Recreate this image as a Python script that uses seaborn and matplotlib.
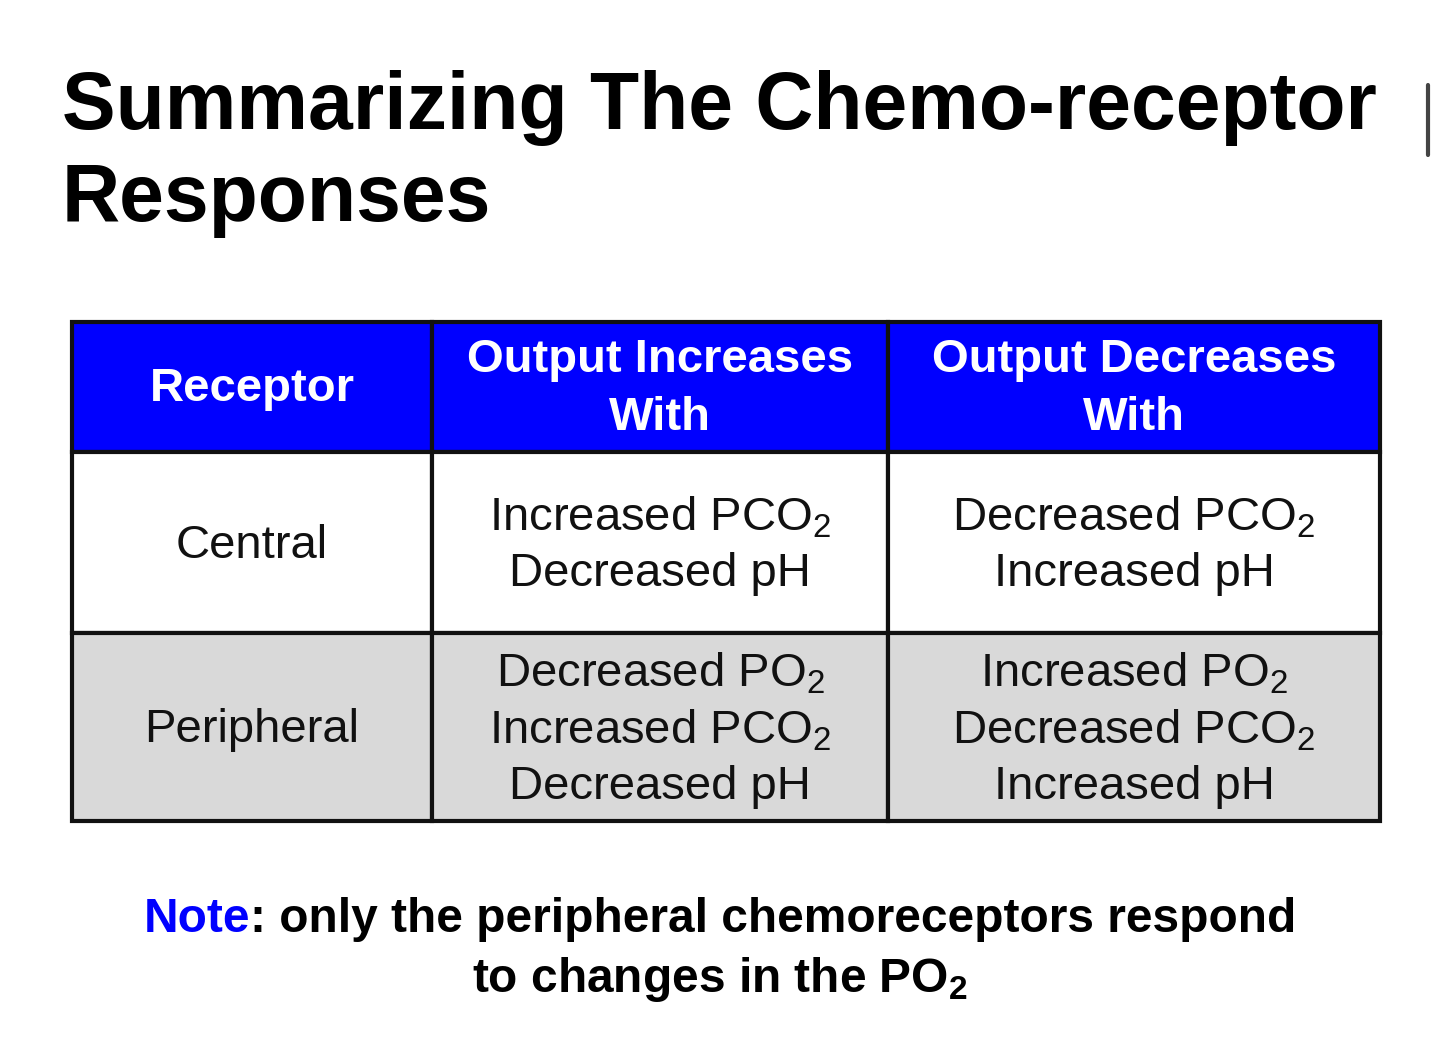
import matplotlib
matplotlib.use("Agg")
import matplotlib.pyplot as plt
from matplotlib.patches import Rectangle
import seaborn as sns

sns.set_theme(style="white")
plt.rcParams["font.family"] = "Liberation Sans"
plt.rcParams["text.color"] = "black"
plt.rcParams["mathtext.fontset"] = "custom"
plt.rcParams["mathtext.rm"] = "Liberation Sans"
plt.rcParams["mathtext.bf"] = "Liberation Sans:bold"

title_lines = ["Summarizing The Chemo-receptor", "Responses"]
headers = ["Receptor", "Output Increases\nWith", "Output Decreases\nWith"]
receptors = ["Central", "Peripheral"]
increases = ["Increased PCO$_2$\nDecreased pH",
             "Decreased PO$_2$\nIncreased PCO$_2$\nDecreased pH"]
decreases = ["Decreased PCO$_2$\nIncreased pH",
             "Increased PO$_2$\nDecreased PCO$_2$\nIncreased pH"]
row_colors = ["#ffffff", "#d9d9d9"]
note_head = "Note"
note_rest = ": only the peripheral chemoreceptors respond"
note_line2 = r"to changes in the PO$_\mathbf{2}$"

fig = plt.figure(figsize=(14.4, 10.56), dpi=100)
ax = fig.add_axes([0, 0, 1, 1])
ax.set_xlim(0, 1440)
ax.set_ylim(1056, 0)
ax.axis("off")

ax.text(62, 108, title_lines[0], fontsize=58, fontweight="bold", va="center", ha="left", color="black")
ax.text(62, 200, title_lines[1], fontsize=58, fontweight="bold", va="center", ha="left", color="black")
ax.plot([1428, 1428], [85, 155], color="#444444", lw=3)

cols = [72, 432, 888, 1380]
rows = [322, 452, 633, 821]
for c in range(3):
    ax.add_patch(Rectangle((cols[c], rows[0]), cols[c+1]-cols[c], rows[1]-rows[0],
                           facecolor="#0000ff", edgecolor="#111111", lw=3))
    ax.text((cols[c]+cols[c+1])/2, (rows[0]+rows[1])/2 + 2, headers[c], color="white",
            fontsize=34, fontweight="bold", ha="center", va="center", linespacing=1.42)
for r in range(2):
    vals = [receptors[r], increases[r], decreases[r]]
    for c in range(3):
        ax.add_patch(Rectangle((cols[c], rows[r+1]), cols[c+1]-cols[c], rows[r+2]-rows[r+1],
                               facecolor=row_colors[r], edgecolor="#111111", lw=3))
        ax.text((cols[c]+cols[c+1])/2, (rows[r+1]+rows[r+2])/2 + 3, vals[c], color="#111111",
                fontsize=34, ha="center", va="center", linespacing=1.33)

fig.canvas.draw()
rend = fig.canvas.get_renderer()
t1 = ax.text(0, 920, note_head, fontsize=34.5, fontweight="bold", color="#0000ff", va="center")
t2 = ax.text(0, 920, note_rest, fontsize=34.5, fontweight="bold", color="black", va="center")
w1 = t1.get_window_extent(rend).width
w2 = t2.get_window_extent(rend).width
x0 = 720 - (w1 + w2) / 2
t1.set_x(x0)
t2.set_x(x0 + w1)
ax.text(720, 979, note_line2, fontsize=34.5, fontweight="bold", ha="center", va="center", color="black")

fig.savefig("out.png", dpi=100, facecolor="white")
